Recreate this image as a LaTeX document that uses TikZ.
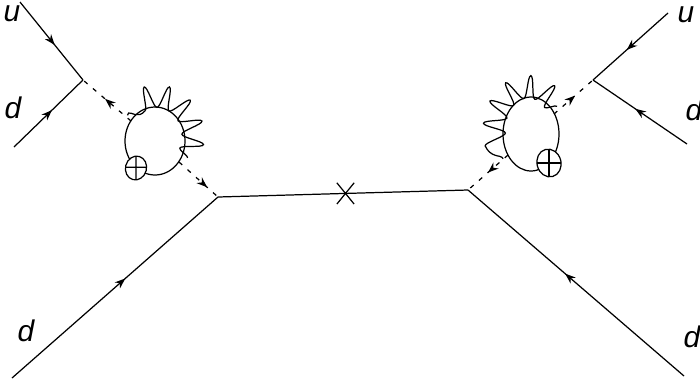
\documentclass[tikz,border=0pt]{standalone}
\usepackage{fontspec}
\setmainfont{Liberation Sans}
\usetikzlibrary{arrows.meta,decorations.markings,decorations.pathmorphing,shapes.geometric,shapes.misc,calc}

\begin{document}
\begin{tikzpicture}[x=0.02cm,y=0.02cm,line width=0.7pt,
  fermion/.style={postaction={decorate},decoration={markings,
    mark=at position 0.55 with {\arrow{Stealth[length=6pt,width=4.5pt]}}}},
  scalar/.style={dash pattern=on 2.5pt off 4pt,postaction={decorate},decoration={markings,
    mark=at position #1 with {\arrow{Stealth[length=6pt,width=4.5pt]}}}},
  scalar/.default=0.55,
  photon/.style={decorate,decoration={snake,segment length=3.8mm,amplitude=2.2mm}},
  insertion/.style={draw,fill=white,ellipse,inner sep=0pt,
    path picture={\draw (path picture bounding box.north) -- (path picture bounding box.south)
      (path picture bounding box.east) -- (path picture bounding box.west);}},
  quark/.style={font=\fontsize{17pt}{20pt}\selectfont\itshape}]

\useasboundingbox (0,0) rectangle (700,-383);

% vertices
\coordinate (vL) at (83,-80);
\coordinate (vR) at (593,-80);
\coordinate (vC1) at (218,-197);
\coordinate (vC2) at (468,-190);

% external quarks
\coordinate (uLin) at (20,-2);
\coordinate (dLin) at (14,-147);
\coordinate (dBL) at (12,-378);
\coordinate (uRin) at (668,-13);
\coordinate (dRin) at (687,-144);
\coordinate (dBR) at (684,-376);

\draw [fermion] (uLin) -- (vL);
\draw [fermion] (dLin) -- (vL);
\draw [fermion] (dBL) -- (vC1);
\draw [fermion] (uRin) -- (vR);
\draw [fermion] (dRin) -- (vR);
\draw [fermion] (dBR) -- (vC2);

\node [quark] (uL) at (12,-14) {u};
\node [quark] (dL) at (13,-108) {d};
\node [quark] (dL2) at (26,-331) {d};
\node [quark] (uR) at (686,-15) {u};
\node [quark] (dR) at (694,-110) {d};
\node [quark] (dR2) at (692,-337) {d};

% mass insertion
\draw (vC1) -- (vC2);
\node [draw,cross out,minimum width=0.32cm,minimum height=0.4cm,inner sep=0pt] (mass) at ($(vC1)!0.51!(vC2)$) {};

% left loop
\coordinate (loopL) at (155,-141);
\coordinate (eL1) at (131,-121);
\coordinate (eL2) at (179,-162);
\draw (loopL) ellipse (30 and 34);
\draw [photon] ($(loopL)+(-25:36 and 40)$) arc [start angle=-25,end angle=140,x radius=36,y radius=40];
\draw [scalar=0.54] (eL1) -- (vL);
\draw [scalar=0.72] (eL2) -- (vC1);
\node [insertion,minimum width=0.42cm,minimum height=0.48cm,rotate=-15] (oxL) at (136,-168) {};

% right loop
\coordinate (loopR) at (531,-134);
\coordinate (eR1) at (554,-114);
\coordinate (eR2) at (508,-155);
\draw (loopR) ellipse (28 and 37);
\draw [photon] ($(loopR)+(40:34 and 43)$) arc [start angle=40,end angle=215,x radius=34,y radius=43];
\draw [scalar=0.54] (eR1) -- (vR);
\draw [scalar=0.5] (eR2) -- (vC2);
\node [insertion,minimum width=0.48cm,minimum height=0.56cm,rotate=15] (oxR) at (549,-163) {};

\end{tikzpicture}
\end{document}
